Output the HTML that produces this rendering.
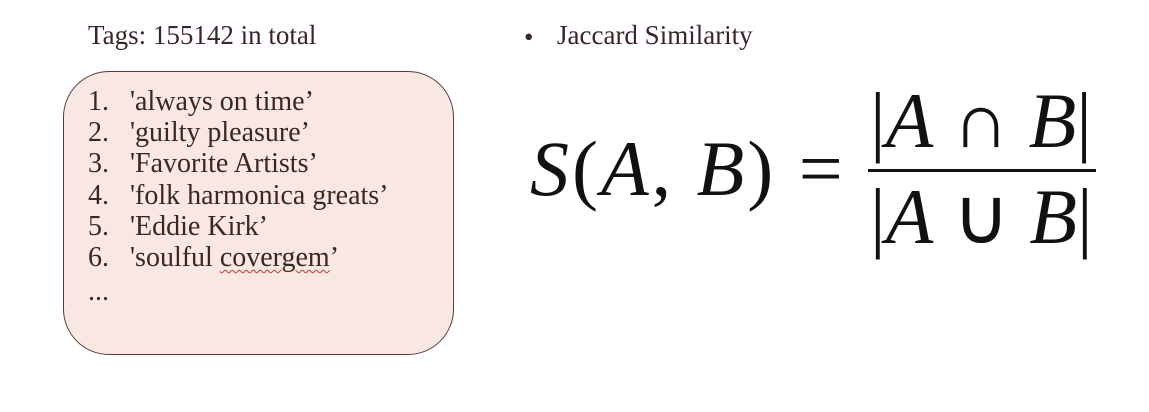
<!DOCTYPE html>
<html><head><meta charset="utf-8"><style>
body{margin:0;width:1149px;height:412px;background:#fff;position:relative;overflow:hidden;font-family:"Liberation Serif",serif;color:#3b2626}
.a{position:absolute;white-space:nowrap}
.t{font-size:27px}
.l{font-size:28px}
.m{font-family:"Liberation Serif",serif;color:#111}
</style></head><body>
<div class="a t" style="left:88px;top:20px">Tags: 155142 in total</div>
<div class="a" style="left:63px;top:71px;width:389px;height:282px;border:1px solid #5a3a3a;border-radius:46px;background:#f8e8e1"></div>
<div>
<div class="a l" style="left:88px;top:86px">1.&nbsp;&nbsp; 'always on time’</div>
<div class="a l" style="left:88px;top:117px">2.&nbsp;&nbsp; 'guilty pleasure’</div>
<div class="a l" style="left:88px;top:148px">3.&nbsp;&nbsp; 'Favorite Artists’</div>
<div class="a l" style="left:88px;top:180px">4.&nbsp;&nbsp; 'folk harmonica greats’</div>
<div class="a l" style="left:88px;top:211px">5.&nbsp;&nbsp; 'Eddie Kirk’</div>
<div class="a l" style="left:88px;top:242px">6.&nbsp;&nbsp; 'soulful <span style="text-decoration:underline wavy #c33;text-underline-offset:3px;text-decoration-thickness:1px">covergem</span>’</div>
<div class="a l" style="left:88px;top:276px">...</div>
</div>
<div class="a t" style="left:524px;top:22px">•</div>
<div class="a t" style="left:557px;top:20px">Jaccard Similarity</div>
<div class="a m" style="left:530px;top:124px;font-size:78px;line-height:90px;letter-spacing:3px"><i>S</i>(<i>A</i>, <i>B</i>) =</div>
<div class="a m" style="left:870px;top:76px;font-size:78px;line-height:90px">|<i>A</i> ∩ <i>B</i>|</div>
<div class="a" style="left:868px;top:169px;width:228px;height:3px;background:#111"></div>
<div class="a m" style="left:870px;top:172px;font-size:78px;line-height:90px">|<i>A</i> ∪ <i>B</i>|</div>
</body></html>
